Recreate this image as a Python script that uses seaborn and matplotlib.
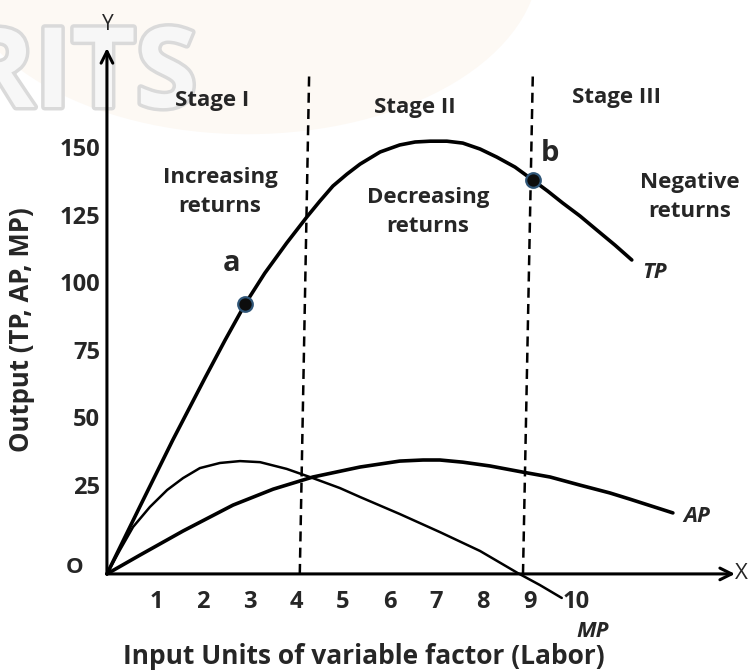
import pandas as pd
import seaborn as sns
import matplotlib.pyplot as plt
import matplotlib.patheffects as pe
from matplotlib.patches import Ellipse

# curves (x = units of labour, y = output)
tp_x = [0, 0.71, 1.41, 2.10, 2.53, 2.96, 3.38, 3.85, 4.28, 4.56, 4.84, 5.14, 5.42, 5.85, 6.27, 6.60,
        6.92, 7.28, 7.62, 7.99, 8.35, 8.74, 9.12, 9.44, 9.76, 10.13, 10.49, 10.88, 11.24]
tp_y = [-7.0, 18.1, 42.6, 65.6, 79.6, 93.0, 104.4, 115.6, 125.2, 131.1, 136.7, 141.1, 144.8, 149.3, 151.9, 153.0,
        153.3, 153.3, 152.6, 150.4, 147.4, 143.7, 138.9, 134.8, 130.4, 125.6, 120.4, 114.8, 109.3]

ap_x = [0, 0.71, 1.63, 2.70, 3.56, 4.41, 5.42, 6.27, 6.77, 7.13, 7.62, 8.20, 8.91, 9.49, 10.13, 10.77, 11.20, 12.12]
ap_y = [-7.0, 0.0, 8.9, 18.5, 24.4, 28.9, 32.6, 34.8, 35.2, 35.2, 34.4, 33.0, 30.7, 28.9, 25.9, 23.0, 20.7, 15.6]

mp_x = [0, 0.28, 0.56, 0.92, 1.29, 1.63, 1.99, 2.42, 2.85, 3.28, 3.85, 4.41, 4.99, 5.42, 6.27, 7.13, 7.99, 8.80, 9.27, 9.74]
mp_y = [-7.0, 1.9, 10.4, 17.8, 24.1, 28.5, 32.2, 34.1, 34.8, 34.4, 31.9, 28.5, 24.8, 21.5, 15.2, 8.5, 1.5, -6.7, -11.1, -15.9]

# points a and b on TP
point_labels = ['a', 'b']
point_x = [2.96, 9.12]
point_y = [93.0, 138.9]

# stage boundaries (drawn slightly slanted as in the sketch)
bound_top_x = [4.33, 9.12]
bound_bot_x = [4.13, 8.91]

x_ticks = [1, 2, 3, 4, 5, 6, 7, 8, 9, 10]
y_ticks = [25, 50, 75, 100, 125, 150]

stage_names = ['Stage I', 'Stage II', 'Stage III']
stage_returns = ['Increasing\nreturns', 'Decreasing\nreturns', 'Negative\nreturns']

y0 = -7.0     # where the axes cross
ytop = 177.8  # top of dashed lines

sns.set_theme(style="white")
plt.rcParams['font.family'] = ['Open Sans', 'DejaVu Sans']

fig = plt.figure(figsize=(7.49, 6.71), dpi=100)
ax = fig.add_axes([0, 0, 1, 1])
ax.set_xlim(-2.29, 13.75)
ax.set_ylim(-42.96, 205.6)
ax.axis('off')

# faint watermark
ax.add_patch(Ellipse((0.33, 1.06), 0.78, 0.52, transform=ax.transAxes,
                     facecolor='#fdf9f4', edgecolor='none', zorder=0))
ax.text(197 / 749, 1 - 107 / 671, 'RITS', transform=ax.transAxes, ha='right', va='baseline',
        fontsize=80, fontweight='bold', color='#f7f7f7', zorder=0.5,
        path_effects=[pe.Stroke(linewidth=5, foreground='#dadada'), pe.Normal()])

# axes with arrows
arrow = dict(arrowstyle='->,head_length=0.7,head_width=0.35', lw=2.2, color='black', shrinkA=0, shrinkB=0)
ax.annotate('', xy=(13.45, y0), xytext=(0, y0), arrowprops=arrow)
ax.annotate('', xy=(0, 187.8), xytext=(0, y0), arrowprops=arrow)
ax.text(13.58, y0, 'X', ha='center', va='center', fontsize=16)
ax.text(0.02, 196.7, 'Y', ha='center', va='center', fontsize=15)
ax.text(-0.7, y0 + 2.5, 'O', ha='center', va='center', fontsize=16, fontweight='bold')

for t in x_ticks:
    ax.text(t + 0.05, -17.4, str(t), ha='center', va='center', fontsize=17, fontweight='bold')
for t in y_ticks:
    ax.text(-0.15, t, str(t), ha='right', va='center', fontsize=17, fontweight='bold')

# stage boundaries
for xt, xb in zip(bound_top_x, bound_bot_x):
    ax.plot([xb, xt], [y0, ytop], color='black', lw=1.8, ls=(0, (4, 2.5)))

# curves
sns.lineplot(x=tp_x, y=tp_y, sort=False, color='black', lw=2.6, ax=ax)
sns.lineplot(x=ap_x, y=ap_y, sort=False, color='black', lw=2.6, ax=ax)
sns.lineplot(x=mp_x, y=mp_y, sort=False, color='black', lw=1.8, ax=ax)
sns.scatterplot(x=point_x, y=point_y, s=110, color='#0d0d0d', edgecolor='#2f5577', linewidth=1.6,
                zorder=5, ax=ax)

ax.text(2.66, 108.1, point_labels[0], ha='center', va='center', fontsize=21, fontweight='bold')
ax.text(9.49, 148.6, point_labels[1], ha='center', va='center', fontsize=21, fontweight='bold')

ax.text(11.73, 104.8, 'TP', ha='center', va='center', fontsize=16, fontweight='bold', style='italic')
ax.text(12.63, 14.1, 'AP', ha='center', va='center', fontsize=16, fontweight='bold', style='italic')
ax.text(10.41, -28.5, 'MP', ha='center', va='center', fontsize=16, fontweight='bold', style='italic')

stage_pos = [(2.25, 168.5), (6.60, 165.6), (10.92, 169.6)]
returns_pos = [(2.42, 134.4), (6.87, 127.0), (12.48, 132.6)]
for name, (sx, sy) in zip(stage_names, stage_pos):
    ax.text(sx, sy, name, ha='center', va='center', fontsize=16, fontweight='bold')
for name, (rx, ry) in zip(stage_returns, returns_pos):
    ax.text(rx, ry, name, ha='center', va='center', fontsize=16, fontweight='bold', linespacing=1.5)

fig.text(22 / 749, 1 - 330 / 671, 'Output (TP, AP, MP)', rotation=90, ha='center', va='center',
         fontsize=18.5, fontweight='bold')
fig.text(364 / 749, 1 - 656 / 671, 'Input Units of variable factor (Labor)', ha='center', va='center',
         fontsize=19, fontweight='bold')

fig.savefig('out.png', dpi=100)
